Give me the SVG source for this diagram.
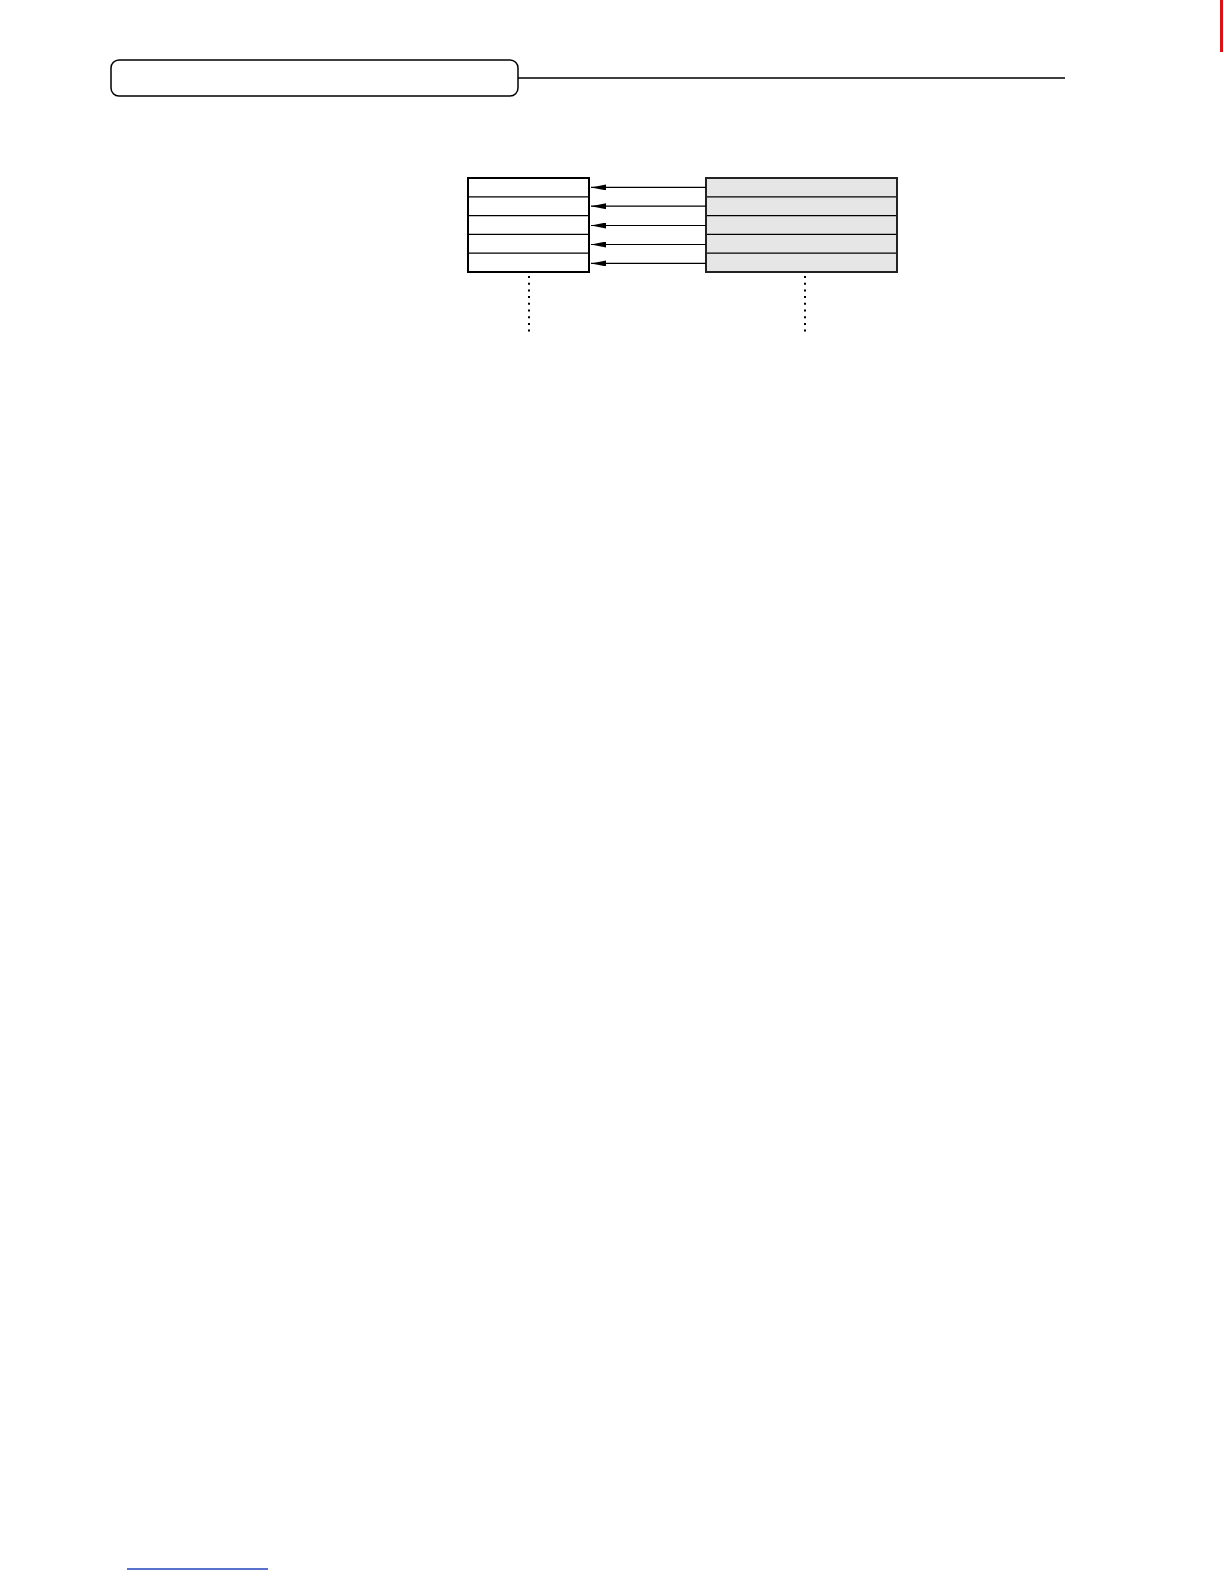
<svg xmlns="http://www.w3.org/2000/svg" width="1224" height="1584" viewBox="0 0 1224 1584">
<style>
.outer{fill:none;stroke:#000;stroke-width:2}
.row{stroke:#000;stroke-width:1.2}
.conn{stroke:#000;stroke-width:1.2;fill:none}
.dots{stroke:#000;stroke-width:2;stroke-dasharray:2 4.7;fill:none}
</style>
<defs>
<marker id="ah" markerWidth="15" markerHeight="6" refX="15" refY="3" orient="auto" markerUnits="userSpaceOnUse">
<path d="M0,0 L15,3 L0,6 Z" fill="#000"/>
</marker>
</defs>
<rect width="1224" height="1584" fill="#fff"/>
<g id="header">
<rect x="111" y="60" width="407" height="36" rx="8" ry="8" fill="#fff" stroke="#000" stroke-width="1.5"/>
<line x1="518" y1="78" x2="1065" y2="78" stroke="#000" stroke-width="1.5"/>
</g>
<g id="left-stack">
<rect x="468" y="178" width="121" height="94" fill="#fff"/>
<line class="row" x1="468" y1="196.8" x2="589" y2="196.8"/>
<line class="row" x1="468" y1="215.6" x2="589" y2="215.6"/>
<line class="row" x1="468" y1="234.4" x2="589" y2="234.4"/>
<line class="row" x1="468" y1="253.2" x2="589" y2="253.2"/>
<rect class="outer" x="468" y="178" width="121" height="94"/>
</g>
<g id="right-stack">
<rect x="706" y="178" width="191" height="94" fill="#e6e6e6"/>
<line class="row" x1="706" y1="196.8" x2="897" y2="196.8"/>
<line class="row" x1="706" y1="215.6" x2="897" y2="215.6"/>
<line class="row" x1="706" y1="234.4" x2="897" y2="234.4"/>
<line class="row" x1="706" y1="253.2" x2="897" y2="253.2"/>
<rect x="706" y="178" width="191" height="94" fill="none" stroke="#222" stroke-width="2"/>
</g>
<g id="connectors">
<line class="conn" x1="706" y1="187.4" x2="591" y2="187.4" marker-end="url(#ah)"/>
<line class="conn" x1="706" y1="206.2" x2="591" y2="206.2" marker-end="url(#ah)"/>
<line class="conn" x1="706" y1="225.5" x2="591" y2="225.5" marker-end="url(#ah)"/>
<line class="conn" x1="706" y1="244.5" x2="591" y2="244.5" marker-end="url(#ah)"/>
<line class="conn" x1="706" y1="263.4" x2="591" y2="263.4" marker-end="url(#ah)"/>
<line class="dots" x1="529" y1="276" x2="529" y2="333"/>
<line class="dots" x1="805" y1="276" x2="805" y2="333"/>
</g>
<line x1="1221.5" y1="0" x2="1221.5" y2="52" stroke="#e01010" stroke-width="3"/>
<line x1="127" y1="1569" x2="268" y2="1569" stroke="#2244bb" stroke-width="1.3"/>
</svg>
